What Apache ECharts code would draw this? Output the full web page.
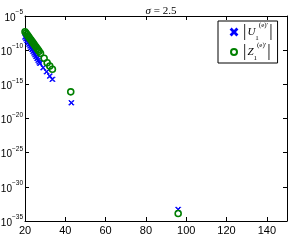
<!DOCTYPE html>
<html>
<head>
<meta charset="utf-8">
<script src="https://cdn.jsdelivr.net/npm/echarts@6/dist/echarts.min.js"></script>
<style>html,body{margin:0;padding:0;background:#fff;}#c{width:291px;height:244px;}</style>
</head>
<body>
<div id="c"></div>
<script>
// ---- data ----
const titleText = 'σ = 2.5';
const xLabel = 'x';
const xTicks = [20, 40, 60, 80, 100, 120, 140];
const yTickExps = [-35, -30, -25, -20, -15, -10, -5];
const seriesNames = ['U', 'Z'];

const uX = [20, 20.5, 21, 21.5, 22, 22.5, 23, 23.5, 24, 24.5, 25, 25.5, 26, 26.5, 27, 27.4, 29.0, 30.7, 32.3, 33.6, 43.0, 96.0];
const uY = [8.32e-9, 4.57e-9, 2.51e-9, 1.38e-9, 7.59e-10, 4.17e-10, 2.29e-10, 1.26e-10, 6.92e-11, 3.80e-11,
            2.09e-11, 1.15e-11, 6.31e-12, 3.47e-12, 1.91e-12, 1.17e-12, 2.69e-13, 6.92e-14, 1.62e-14, 5.37e-15,
            2.0e-18, 5.0e-34];

const zX = [20, 20.5, 21, 21.5, 22, 22.5, 23, 23.5, 24, 24.5, 25, 25.5, 26, 26.5, 27, 27.7, 29.5, 31.0, 32.3, 33.6, 42.7, 96.0];
const zY = [5.01e-8, 3.16e-8, 1.95e-8, 1.23e-8, 7.59e-9, 4.79e-9, 2.95e-9, 1.86e-9, 1.15e-9, 7.24e-10,
            4.47e-10, 2.82e-10, 1.74e-10, 1.10e-10, 6.76e-11, 3.47e-11, 6.46e-12, 1.45e-12, 4.79e-13, 1.58e-13,
            7.94e-17, 1.26e-34];

// log-scaled y axis: the axis works in decades (log10 of the value)
const pairs = (xs, ys) => xs.map((x, i) => [x, Math.log10(ys[i])]);

const chart = echarts.init(document.getElementById('c'), null, {renderer: 'canvas'});
const SANS = 'Liberation Sans, Arial, sans-serif';
const SERIF = 'Liberation Serif, DejaVu Serif, serif';
const axisLine = {show: true, lineStyle: {color: '#000', width: 1}};
const tick = {show: true, inside: true, length: 4, lineStyle: {color: '#000', width: 1}};

const legendRich = {
  d: {fontFamily: SERIF, fontSize: 17, lineHeight: 20, color: '#000', verticalAlign: 'middle', padding: [0, 1, 0, 1]},
  v: {fontFamily: SERIF, fontStyle: 'italic', fontSize: 11, lineHeight: 20, color: '#000', verticalAlign: 'middle'},
  s: {fontFamily: SERIF, fontSize: 7, lineHeight: 14, color: '#000', verticalAlign: 'bottom'},
  p: {fontFamily: SERIF, fontSize: 7, lineHeight: 14, color: '#000', verticalAlign: 'top'}
};

const option = {
  backgroundColor: '#fff',
  animation: false,
  title: {
    text: '{i|σ}{n| = 2.5}',
    left: 156, top: 1, textAlign: 'center',
    textStyle: {
      fontWeight: 'normal',
      rich: {
        i: {fontFamily: SERIF, fontStyle: 'italic', fontWeight: 'normal', fontSize: 11, color: '#000'},
        n: {fontFamily: SERIF, fontWeight: 'normal', fontSize: 11, color: '#000'}
      }
    }
  },
  grid: {left: 25, right: 4, top: 16, bottom: 23, containLabel: false, outerBoundsMode: 'none'},
  legend: {
    orient: 'vertical', left: 218, top: 21,
    padding: [1, 4, 1, 12], itemGap: 0, itemWidth: 6, itemHeight: 6,
    borderColor: '#000', borderWidth: 1, backgroundColor: '#fff',
    data: seriesNames,
    formatter: name => '{d||}{v|' + name + '}{s|1}{p|(e)′}{d||}',
    textStyle: {rich: legendRich}
  },
  xAxis: [
    {type: 'value', min: 20, max: 150, interval: 20, position: 'bottom',
     name: xLabel, nameLocation: 'middle', nameGap: 16,
     nameTextStyle: {fontFamily: SERIF, fontStyle: 'italic', fontSize: 10, color: '#000'},
     axisLine, axisTick: tick, splitLine: {show: false},
     axisLabel: {fontFamily: SANS, fontSize: 11, color: '#000', margin: 4, showMaxLabel: false,
                 formatter: v => xTicks.includes(v) ? String(v) : ''}},
    {type: 'value', min: 20, max: 150, interval: 20, position: 'top',
     axisLine, axisTick: tick, splitLine: {show: false}, axisLabel: {show: false}}
  ],
  yAxis: [
    {type: 'value', min: -35, max: -5, interval: 5, position: 'left',
     axisLine, axisTick: tick, splitLine: {show: false},
     axisLabel: {margin: 2, formatter: v => {
        const e = Math.round(v);
        if (!yTickExps.includes(e)) return '';
        return '{b|10}{e|' + String(e).replace('-', '−') + '}';
     },
     rich: {
       b: {fontFamily: SANS, fontSize: 10, color: '#000', verticalAlign: 'bottom', lineHeight: 14},
       e: {fontFamily: SANS, fontSize: 6.5, color: '#000', verticalAlign: 'top', lineHeight: 14}
     }}},
    {type: 'value', min: -35, max: -5, interval: 5, position: 'right',
     axisLine, axisTick: tick, splitLine: {show: false}, axisLabel: {show: false}}
  ],
  series: [
    {name: seriesNames[0], type: 'scatter', xAxisIndex: 0, yAxisIndex: 0,
     data: pairs(uX, uY),
     symbol: 'path://M0,1L1,0L5,4L9,0L10,1L6,5L10,9L9,10L5,6L1,10L0,9L4,5Z',
     symbolSize: 5,
     itemStyle: {color: '#0000ff', borderColor: '#0000ff', borderWidth: 1, opacity: 1}},
    {name: seriesNames[1], type: 'scatter', xAxisIndex: 0, yAxisIndex: 0,
     data: pairs(zX, zY),
     symbol: 'circle', symbolSize: 6,
     itemStyle: {color: 'rgba(0,0,0,0)', borderColor: '#008000', borderWidth: 1.6, opacity: 1}}
  ]
};
chart.setOption(option);
</script>
</body>
</html>
